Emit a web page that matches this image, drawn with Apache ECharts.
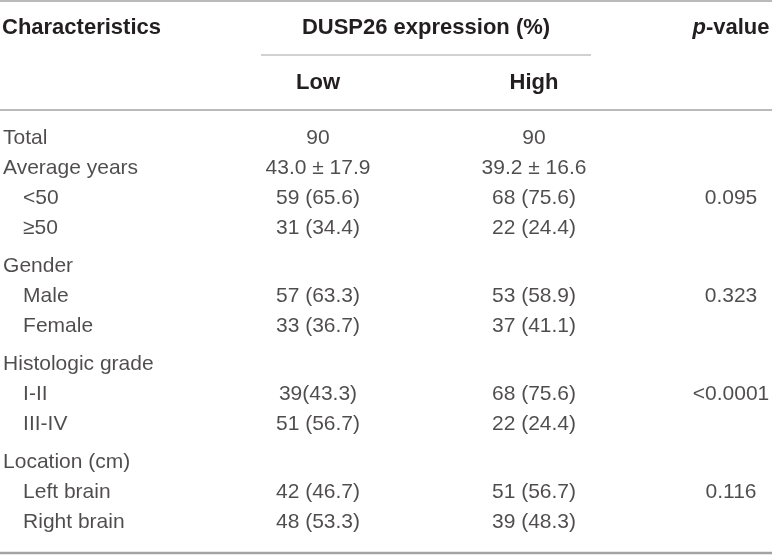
<!DOCTYPE html>
<html>
<head>
<meta charset="utf-8">
<script src="https://cdn.jsdelivr.net/npm/echarts@6/dist/echarts.min.js"></script>
<style>
  html, body { margin: 0; padding: 0; background: #fff; }
  #chart { width: 772px; height: 556px; }
</style>
</head>
<body>
<div id="chart"></div>
<script>
// table rows, top to bottom
const rowLabels = ['Total', 'Average years', '<50', '≥50', 'Gender', 'Male', 'Female',
  'Histologic grade', 'I-II', 'III-IV', 'Location (cm)', 'Left brain', 'Right brain'];
const subRows = ['<50', '≥50', 'Male', 'Female', 'I-II', 'III-IV', 'Left brain', 'Right brain'];
const groups = ['Low', 'High'];
const lowValues = ['90', '43.0 ± 17.9', '59 (65.6)', '31 (34.4)', '', '57 (63.3)', '33 (36.7)',
  '', '39(43.3)', '51 (56.7)', '', '42 (46.7)', '48 (53.3)'];
const highValues = ['90', '39.2 ± 16.6', '68 (75.6)', '22 (24.4)', '', '53 (58.9)', '37 (41.1)',
  '', '68 (75.6)', '22 (24.4)', '', '51 (56.7)', '39 (48.3)'];
const pValues = ['', '', '0.095', '', '', '0.323', '', '', '<0.0001', '', '', '0.116', ''];

const font = 'Liberation Sans';
const ink = '#231f20';
const rule = '#a3a3a3';

// a section that follows sub-rows gets a little extra space above it
let gaps = 0;
const rowPos = rowLabels.map((r, i) => {
  if (i > 0 && !subRows.includes(r) && subRows.includes(rowLabels[i - 1])) gaps++;
  return i + gaps * 0.27;
});
const yMax = rowPos[rowPos.length - 1] + 0.5;

let myChart = echarts.init(document.getElementById('chart'));

const bodyText = { color: ink, fontFamily: font, fontSize: 21 };

function cellSeries(name, xIndex, data, label) {
  return {
    name: name,
    type: 'scatter',
    xAxisIndex: xIndex,
    yAxisIndex: xIndex,
    symbolSize: 0.1,
    itemStyle: { color: ink },
    silent: true,
    data: data,
    label: Object.assign({ show: true, formatter: p => p.value[2] }, bodyText, label)
  };
}

const gridTop = 123;
const gridHeight = (yMax + 0.5) * 30;
const hiddenY = {
  type: 'value', inverse: true, min: -0.5, max: yMax, show: false
};

const option = {
  animation: false,
  grid: [
    { left: 3, width: 200, top: gridTop, height: gridHeight },
    { left: 210, right: 130, top: gridTop, height: gridHeight },
    { left: 691, width: 80, top: gridTop, height: gridHeight }
  ],
  xAxis: [
    { gridIndex: 0, type: 'value', min: 0, max: 1, show: false },
    {
      gridIndex: 1,
      type: 'category',
      position: 'top',
      data: groups,
      axisLine: { show: false },
      axisTick: { show: false },
      splitLine: { show: false },
      axisLabel: { margin: 29, color: ink, fontFamily: font, fontSize: 22, fontWeight: 'bold' }
    },
    { gridIndex: 2, type: 'category', data: ['p-value'], show: false }
  ],
  yAxis: [
    Object.assign({ gridIndex: 0 }, hiddenY),
    Object.assign({ gridIndex: 1 }, hiddenY),
    Object.assign({ gridIndex: 2 }, hiddenY)
  ],
  graphic: [
    { type: 'line', shape: { x1: 0, y1: 1, x2: 772, y2: 1 }, style: { stroke: rule, lineWidth: 1.5 } },
    { type: 'line', shape: { x1: 261, y1: 55, x2: 591, y2: 55 }, style: { stroke: rule, lineWidth: 1 } },
    { type: 'line', shape: { x1: 0, y1: 110, x2: 772, y2: 110 }, style: { stroke: rule, lineWidth: 1.5 } },
    { type: 'line', shape: { x1: 0, y1: 553, x2: 772, y2: 553 }, style: { stroke: rule, lineWidth: 2.5 } },
    { type: 'text', x: 2, y: 28, style: { text: 'Characteristics', fill: ink, font: 'bold 22px "Liberation Sans"', verticalAlign: 'middle' } },
    { type: 'text', x: 426, y: 28, style: { text: 'DUSP26 expression (%)', fill: ink, font: 'bold 22px "Liberation Sans"', align: 'center', verticalAlign: 'middle' } },
    {
      type: 'text', x: 731, y: 28,
      style: {
        text: '{i|p}{b|-value}', align: 'center', verticalAlign: 'middle',
        rich: {
          i: { fontStyle: 'italic', fontWeight: 'bold', fontSize: 22, fontFamily: font, fill: ink },
          b: { fontWeight: 'bold', fontSize: 22, fontFamily: font, fill: ink }
        }
      }
    }
  ],
  series: [
    cellSeries('Characteristics', 0,
      rowLabels.map((r, i) => [0, rowPos[i], r]),
      {
        position: 'right', distance: 0,
        formatter: p => subRows.includes(p.value[2]) ? '{sub|' + p.value[2] + '}' : p.value[2],
        rich: { sub: Object.assign({ padding: [0, 0, 0, 20] }, bodyText) }
      }),
    cellSeries('Low', 1, lowValues.map((v, i) => ['Low', rowPos[i], v]), { position: 'inside' }),
    cellSeries('High', 1, highValues.map((v, i) => ['High', rowPos[i], v]), { position: 'inside' }),
    cellSeries('p-value', 2, pValues.map((v, i) => ['p-value', rowPos[i], v]), { position: 'inside' })
  ]
};
myChart.setOption(option);
</script>
</body>
</html>
